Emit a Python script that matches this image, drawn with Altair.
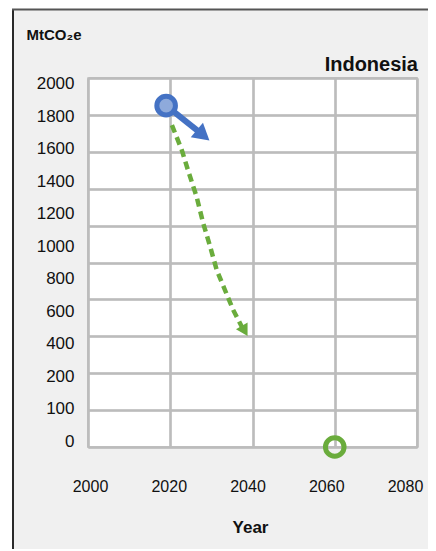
import altair as alt
import pandas as pd

# ---- data ----
current_year = [2019]
current_value = [1850]
trend_years = [2019, 2028]
trend_values = [1850, 1690]
target_years = [2020.4, 2022.8, 2024.3, 2026.4, 2028.0, 2029.7, 2031.3, 2033.3, 2035.3, 2037.4, 2038.1]
target_values = [1745, 1610, 1501, 1357, 1214, 1086, 959, 851, 743, 652, 629]
head_blue_year = [2028]
head_blue_value = [1690]
head_green_year = [2038.1]
head_green_value = [629]
netzero_year = [2060]
netzero_value = [0]

y_labels = ["2000", "1800", "1600", "1400", "1200", "1000", "800", "600", "400", "200", "100", "0"]
x_labels = ["2000", "2020", "2040", "2060", "2080"]
y_grid = [0, 200, 400, 600, 800, 1000, 1200, 1400, 1600, 1800, 2000]
x_grid = [2000, 2020, 2040, 2060, 2080]
country = ["Indonesia"]

FONT = "'Liberation Sans Narrow', 'Liberation Sans', sans-serif"
BLUE = "#4472c4"
LIGHTBLUE = "#8eaadb"
GREEN = "#6aac3c"
GRID = "#bcbcbc"
TXT = "#111111"

W, H = 329, 369

xs = alt.Scale(domain=[2000, 2080], nice=False)
ys = alt.Scale(domain=[0, 2000], nice=False)

target_df = pd.DataFrame({"year": target_years, "value": target_values})
trend_df = pd.DataFrame({"year": trend_years, "value": trend_values})
cur_df = pd.DataFrame({"year": current_year, "value": current_value})
hb_df = pd.DataFrame({"year": head_blue_year, "value": head_blue_value})
hg_df = pd.DataFrame({"year": head_green_year, "value": head_green_value})
nz_df = pd.DataFrame({"year": netzero_year, "value": netzero_value})
ylab_df = pd.DataFrame({"ylabel": y_labels})
xlab_df = pd.DataFrame({"xlabel": x_labels})
title_df = pd.DataFrame({"name": country})

x_enc = alt.X(
    "year:Q", scale=xs,
    axis=alt.Axis(values=x_grid, grid=True, gridColor=GRID, gridWidth=1.5,
                  labels=False, ticks=False, domain=False, title=None, orient="bottom"),
)
y_enc = alt.Y(
    "value:Q", scale=ys,
    axis=alt.Axis(values=y_grid, grid=True, gridColor=GRID, gridWidth=1.5,
                  labels=False, ticks=False, domain=False, title=None, orient="left"),
)

# decorative frame (outside plot area)
white_left = alt.Chart(title_df).mark_rule(color="white", strokeWidth=4).encode(
    x=alt.value(-78), y=alt.value(-72), y2=alt.value(475))
white_top = alt.Chart(title_df).mark_rule(color="white", strokeWidth=1).encode(
    x=alt.value(-80), x2=alt.value(350), y=alt.value(-69.5))
border_left = alt.Chart(title_df).mark_rule(color="#2a2a2a", strokeWidth=2).encode(
    x=alt.value(-75), y=alt.value(-69), y2=alt.value(475))
border_top = alt.Chart(title_df).mark_rule(color="#555555", strokeWidth=2).encode(
    x=alt.value(-76), x2=alt.value(350), y=alt.value(-68.5))

title_text = alt.Chart(title_df).mark_text(
    align="right", baseline="alphabetic", font=FONT, fontSize=20,
    fontWeight="bold", color=TXT
).encode(x=alt.value(330), y=alt.value(-7), text="name:N")

target_line = alt.Chart(target_df).mark_line(
    color=GREEN, strokeWidth=4.5, strokeDash=[8, 5]
).encode(x=x_enc, y=y_enc)

trend_line = alt.Chart(trend_df).mark_line(color=BLUE, strokeWidth=6).encode(x=x_enc, y=y_enc)

head_blue = alt.Chart(hb_df).mark_point(
    shape="triangle-up", filled=True, color=BLUE, size=360, angle=130, opacity=1
).encode(x=x_enc, y=y_enc)

head_green = alt.Chart(hg_df).mark_point(
    shape="triangle-up", filled=True, color=GREEN, size=180, angle=150, opacity=1
).encode(x=x_enc, y=y_enc)

cur_pt = alt.Chart(cur_df).mark_point(
    shape="circle", fill=LIGHTBLUE, stroke=BLUE, strokeWidth=5, size=346,
    opacity=1, fillOpacity=1
).encode(x=x_enc, y=y_enc)

nz_pt = alt.Chart(nz_df).mark_point(
    shape="circle", filled=False, stroke=GREEN, strokeWidth=5, size=346, opacity=1
).encode(x=x_enc, y=y_enc)

ylabels_layer = alt.Chart(ylab_df).mark_point(opacity=0).encode(
    x=alt.value(0),
    y=alt.Y(
        "ylabel:O", sort=y_labels, scale=alt.Scale(type="point", padding=0.18),
        axis=alt.Axis(
            orient="left", grid=False, domain=False, ticks=False, labelPadding=14,
            labelFont=FONT, labelFontSize=17, labelColor=TXT,
            title="MtCO₂e", titleAngle=0, titleX=-62, titleY=-44, titleAlign="left",
            titleBaseline="middle", titleFont=FONT, titleFontSize=15,
            titleFontWeight="bold", titleColor=TXT,
        ),
    ),
)

xlabels_layer = alt.Chart(xlab_df).mark_point(opacity=0).encode(
    y=alt.value(0),
    x=alt.X(
        "xlabel:O", sort=x_labels,
        scale=alt.Scale(type="point", range=[2, 317], padding=0),
        axis=alt.Axis(
            orient="bottom", grid=False, domain=False, ticks=False, labelPadding=31,
            labelAngle=0, labelFont=FONT, labelFontSize=16, labelColor=TXT,
            title="Year", titleFont=FONT, titleFontSize=17, titleFontWeight="bold",
            titleColor=TXT, titleX=162, titleY=80, titleBaseline="middle",
            titleAlign="center",
        ),
    ),
)

chart = alt.layer(
    target_line, trend_line, head_blue, head_green, cur_pt, nz_pt,
    white_left, white_top, border_left, border_top, title_text,
    ylabels_layer, xlabels_layer,
).resolve_scale(x="independent", y="independent").properties(
    width=W, height=H,
    background="#f0f0f0",
    padding={"left": 80, "top": 70, "right": 11, "bottom": 102},
    autosize=alt.AutoSizeParams(type="none"),
).configure_view(fill="white", stroke=GRID, strokeWidth=1.5)

chart.save("out.html", embed_options={"renderer": "svg", "actions": False})
